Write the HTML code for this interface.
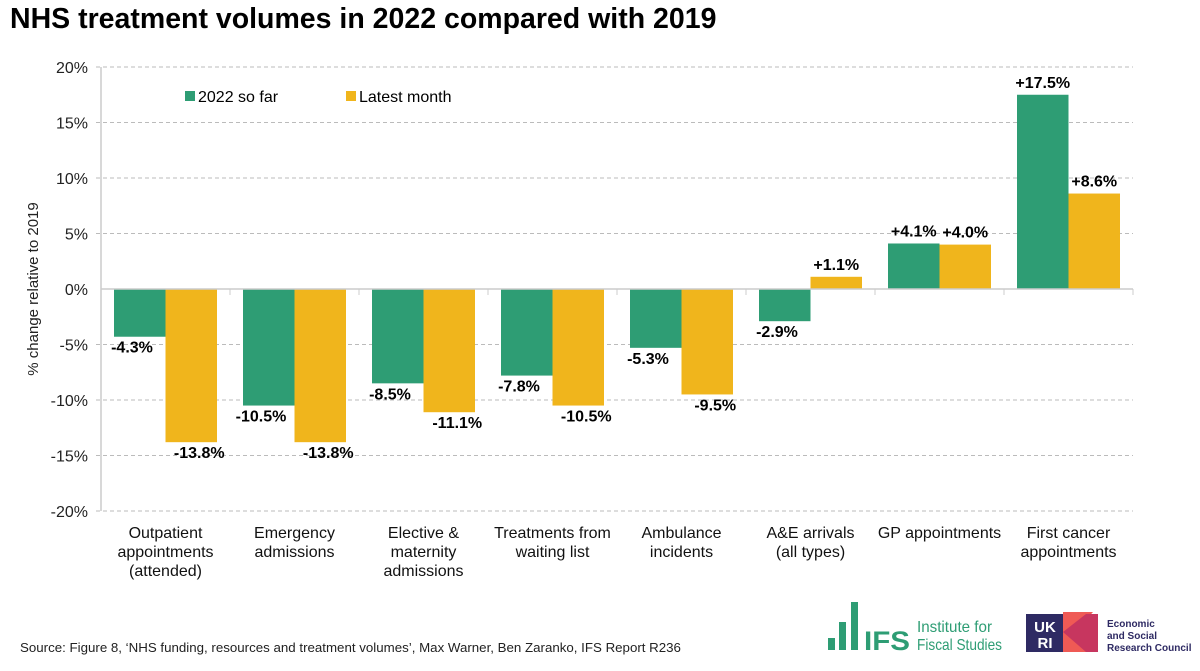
<!DOCTYPE html>
<html><head><meta charset="utf-8"><style>
body{margin:0;background:#fff;width:1200px;height:666px;overflow:hidden;font-family:"Liberation Sans",Arial,sans-serif}
svg text{font-family:"Liberation Sans",Arial,sans-serif}
</style></head><body>
<svg id="c" width="1200" height="666">
<text x="10" y="28" font-size="28.5" font-weight="bold" fill="#000">NHS treatment volumes in 2022 compared with 2019</text>
<text transform="translate(38,289) rotate(-90)" text-anchor="middle" font-size="15" fill="#222">% change relative to 2019</text>
<g>
<rect x="185" y="91" width="10" height="10" fill="#2e9d74"/>
<text x="198" y="102" font-size="16">2022 so far</text>
<rect x="346" y="91" width="10" height="10" fill="#f0b51c"/>
<text x="359" y="102" font-size="16">Latest month</text>
</g>
<text x="20" y="652" font-size="13.3" fill="#222">Source: Figure 8, ‘NHS funding, resources and treatment volumes’, Max Warner, Ben Zaranko, IFS Report R236</text>
<g>
<rect x="828" y="638" width="7" height="12" fill="#2e9d74"/><rect x="839" y="622" width="7" height="28" fill="#2e9d74"/><rect x="851" y="602" width="7" height="48" fill="#2e9d74"/>
<text x="864" y="650" font-size="27" font-weight="bold" fill="#2e9d74" textLength="46" lengthAdjust="spacingAndGlyphs">IFS</text>
<text x="917" y="632" font-size="16" fill="#2e9d74" textLength="75" lengthAdjust="spacingAndGlyphs">Institute for</text>
<text x="917" y="650" font-size="16" fill="#2e9d74" textLength="85" lengthAdjust="spacingAndGlyphs">Fiscal Studies</text>
</g>
<g>
<rect x="1026" y="614" width="38" height="38" fill="#2e2a63"/>
<text x="1045" y="632" font-size="15" font-weight="bold" fill="#fff" text-anchor="middle">UK</text>
<text x="1045" y="648" font-size="15" font-weight="bold" fill="#fff" text-anchor="middle">RI</text>
<polygon points="1063,612 1093,612 1086,620 1086,652 1063,652" fill="#ef5a55"/>
<polygon points="1063,632 1086,614 1098,614 1098,652 1086,652" fill="#c7365f"/>
<text x="1107" y="627" font-size="10" font-weight="bold" fill="#2e2a63">Economic</text>
<text x="1107" y="639" font-size="10" font-weight="bold" fill="#2e2a63">and Social</text>
<text x="1107" y="651" font-size="10" font-weight="bold" fill="#2e2a63">Research Council</text>
</g>
<g id="plot"></g>
</svg>
<script>
const categories=[["Outpatient","appointments","(attended)"],["Emergency","admissions"],["Elective &","maternity","admissions"],["Treatments from","waiting list"],["Ambulance","incidents"],["A&E arrivals","(all types)"],["GP appointments"],["First cancer","appointments"]];
const soFar=[-4.3,-10.5,-8.5,-7.8,-5.3,-2.9,4.1,17.5];
const latest=[-13.8,-13.8,-11.1,-10.5,-9.5,1.1,4.0,8.6];
const ticks=[20,15,10,5,0,-5,-10,-15,-20];
const NS="http://www.w3.org/2000/svg";
const g=document.getElementById('plot');
const X0=101,X1=1133,Y0=289,PX=55.5/5;
const band=(X1-X0)/categories.length;
const y=v=>Y0-v*PX;
const cx=i=>X0+band*(i+0.5);
function el(t,a,p){const e=document.createElementNS(NS,t);for(const k in a)e.setAttribute(k,a[k]);(p||g).appendChild(e);return e;}
ticks.forEach(t=>{
 if(t!==0){const l=el('line',{x1:96,x2:X1,y1:y(t),y2:y(t),stroke:'#bbb','stroke-dasharray':'4,3'});
 
 }
 const tx=el('text',{x:88,y:y(t)+6,'text-anchor':'end','font-size':16,fill:'#222'});tx.textContent=t+'%';
 
 
});
const bw=51.5;
const fmt=v=>(v>0?'+':'')+v.toFixed(1)+'%';
categories.forEach((c,i)=>{
 [[soFar[i],'#2e9d74',-bw,'so-far'],[latest[i],'#f0b51c',0,'latest']].forEach(([v,col,off,nm])=>{
  const x=cx(i)+off;
  const r=el('rect',{x:x,y:Math.min(y(v),Y0),width:bw,height:Math.abs(y(v)-Y0),fill:col});
  
  
  const lx=v<0&&nm==='so-far'?x+18:x+bw/2+(v<0?8:0);
  const t=el('text',{x:lx,y:v<0?y(v)+16:y(v)-7,'text-anchor':'middle','font-size':16,'font-weight':'bold',fill:'#000'});
  t.textContent=fmt(v);
  
  
 });
 const tk=el('line',{x1:X0+band*(i+1),x2:X0+band*(i+1),y1:Y0,y2:Y0+6,stroke:'#ccc'});
 
 
 c.forEach((s,j)=>{const t=el('text',{x:cx(i),y:538+j*19,'text-anchor':'middle','font-size':16,fill:'#111'});t.textContent=s;
  
  });
});
const ax=el('line',{x1:X0,x2:X0,y1:y(20),y2:y(-20),stroke:'#ccc','stroke-width':1.5});


const zl=el('line',{x1:X0,x2:X1,y1:Y0,y2:Y0,stroke:'#ccc','stroke-width':1.5});


</script>
</body></html>
